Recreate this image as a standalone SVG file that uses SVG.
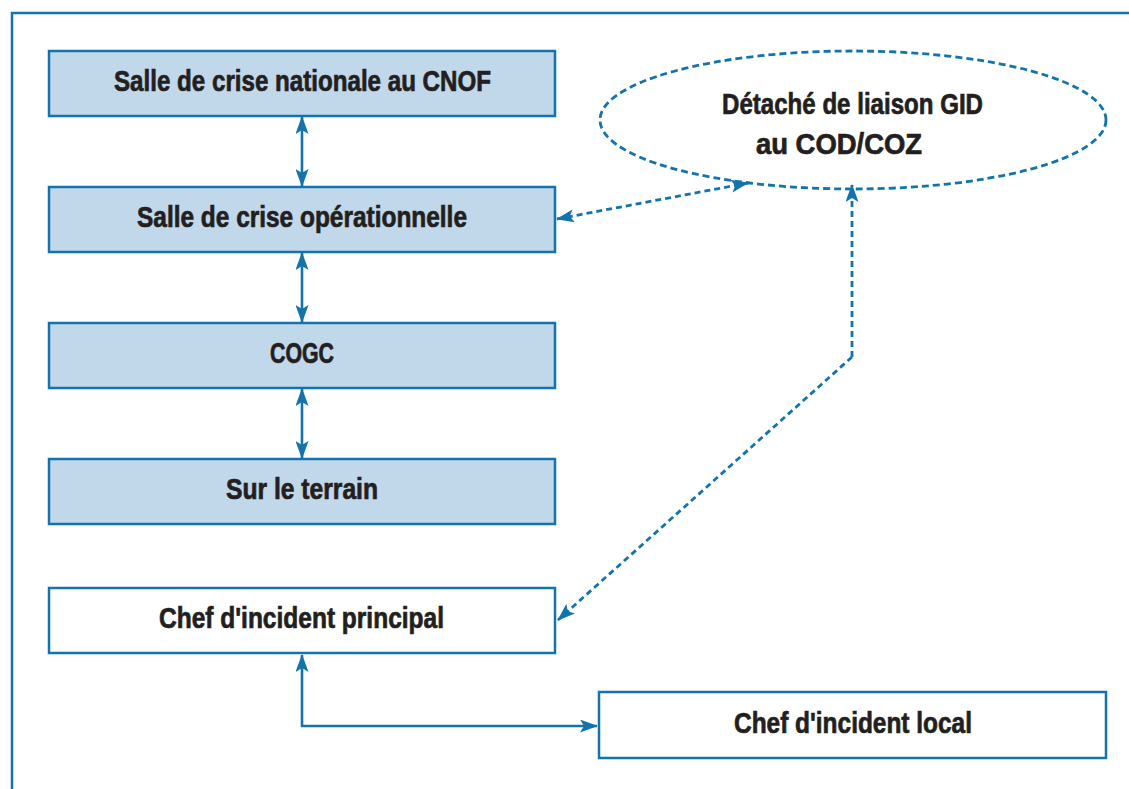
<svg xmlns="http://www.w3.org/2000/svg" width="1129" height="789" viewBox="0 0 1129 789">
  <style>
    .frame { fill: none; stroke: #1274aa; stroke-width: 2.5; }
    .box { fill: #c1d7ea; stroke: #1274aa; stroke-width: 2.5; }
    .box-w { fill: #ffffff; stroke: #1274aa; stroke-width: 2.5; }
    .oval { fill: #ffffff; stroke: #1274aa; stroke-width: 2.8; stroke-dasharray: 7 4; }
    .lbl { font-family: "Liberation Sans", Arial, sans-serif; font-weight: bold; font-size: 29px; fill: #231f20; stroke: #231f20; stroke-width: 0.7; text-anchor: middle; }
    .link { fill: none; stroke: #1274aa; stroke-width: 2.6; }
    .dash { fill: none; stroke: #1274aa; stroke-width: 2.8; stroke-dasharray: 6 4; }
  </style>
  <defs>
    <marker id="ah" viewBox="0 0 18 13" refX="17" refY="6.5" markerWidth="18" markerHeight="13" markerUnits="userSpaceOnUse" orient="auto-start-reverse">
      <path d="M0,0 L18,6.5 L0,13 L4,6.5 Z" fill="#1274aa"/>
    </marker>
  </defs>

  <rect class="frame" x="12" y="13" width="1140" height="800"/>

  <g id="node-cnof">
    <rect class="box" x="49" y="51" width="506" height="65"/>
    <text class="lbl" x="302.5" y="91" textLength="377" lengthAdjust="spacingAndGlyphs">Salle de crise nationale au CNOF</text>
  </g>
  <g id="node-operationnelle">
    <rect class="box" x="49" y="187" width="506" height="65"/>
    <text class="lbl" x="302" y="227" textLength="330" lengthAdjust="spacingAndGlyphs">Salle de crise opérationnelle</text>
  </g>
  <g id="node-cogc">
    <rect class="box" x="49" y="323" width="506" height="65"/>
    <text class="lbl" x="302" y="363" textLength="64" lengthAdjust="spacingAndGlyphs">COGC</text>
  </g>
  <g id="node-terrain">
    <rect class="box" x="49" y="459" width="506" height="65"/>
    <text class="lbl" x="302" y="499" textLength="152" lengthAdjust="spacingAndGlyphs">Sur le terrain</text>
  </g>
  <g id="node-chef-principal">
    <rect class="box-w" x="49" y="588" width="506" height="65"/>
    <text class="lbl" x="301.5" y="628" textLength="285" lengthAdjust="spacingAndGlyphs">Chef d'incident principal</text>
  </g>
  <g id="node-chef-local">
    <rect class="box-w" x="599" y="692" width="507" height="66"/>
    <text class="lbl" x="853" y="733" textLength="238" lengthAdjust="spacingAndGlyphs">Chef d'incident local</text>
  </g>
  <g id="node-gid">
    <ellipse class="oval" cx="853" cy="120" rx="253" ry="69"/>
    <text class="lbl" x="852.5" y="114" textLength="261" lengthAdjust="spacingAndGlyphs">Détaché de liaison GID</text>
    <text class="lbl" x="839" y="154" textLength="166" lengthAdjust="spacingAndGlyphs">au COD/COZ</text>
  </g>

  <g id="connectors">
    <line class="link" x1="302" y1="117" x2="302" y2="186" marker-start="url(#ah)" marker-end="url(#ah)"/>
    <line class="link" x1="302" y1="253" x2="302" y2="322" marker-start="url(#ah)" marker-end="url(#ah)"/>
    <line class="link" x1="302" y1="389" x2="302" y2="458" marker-start="url(#ah)" marker-end="url(#ah)"/>
    <path class="link" d="M302,655 L302,726 L597,726" marker-start="url(#ah)" marker-end="url(#ah)"/>
    <line class="dash" x1="557" y1="219" x2="748" y2="183" marker-start="url(#ah)" marker-end="url(#ah)"/>
    <path class="dash" d="M852,357 L852,185" marker-end="url(#ah)"/>
    <path class="dash" d="M852,357 L558,620" marker-end="url(#ah)"/>
  </g>
</svg>
